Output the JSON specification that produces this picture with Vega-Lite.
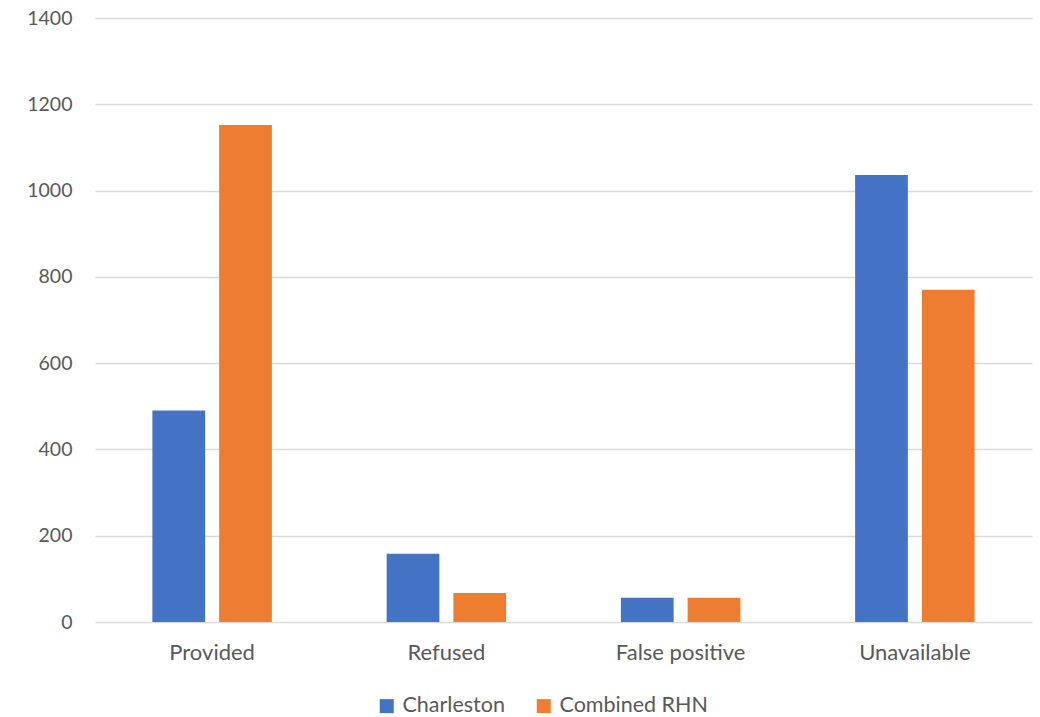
{
  "$schema": "https://vega.github.io/schema/vega-lite/v6.json",
  "autosize": {"type": "none"},
  "width": 937,
  "height": 604,
  "padding": {"left": 95, "top": 18, "right": 8, "bottom": 95},
  "background": "white",
  "data": {
    "values": [
      {"category": "Provided", "series": "Charleston", "value": 490},
      {"category": "Provided", "series": "Combined RHN", "value": 1152},
      {"category": "Refused", "series": "Charleston", "value": 158},
      {"category": "Refused", "series": "Combined RHN", "value": 67},
      {"category": "False positive", "series": "Charleston", "value": 56},
      {"category": "False positive", "series": "Combined RHN", "value": 56},
      {"category": "Unavailable", "series": "Charleston", "value": 1036},
      {"category": "Unavailable", "series": "Combined RHN", "value": 770}
    ]
  },
  "config": {
    "font": "Lato",
    "view": {"stroke": null},
    "axis": {"labelFont": "Lato", "labelColor": "#595959"}
  },
  "mark": {"type": "bar"},
  "encoding": {
    "x": {
      "field": "category",
      "type": "nominal",
      "sort": ["Provided", "Refused", "False positive", "Unavailable"],
      "scale": {"paddingInner": 0.49, "paddingOuter": 0.245},
      "axis": {
        "title": null,
        "labelAngle": 0,
        "labelFontSize": 22,
        "domain": false,
        "ticks": false,
        "tickSize": 0,
        "labelPadding": 20
      }
    },
    "xOffset": {
      "field": "series",
      "type": "nominal",
      "scale": {"paddingInner": 0.21, "paddingOuter": 0}
    },
    "y": {
      "field": "value",
      "type": "quantitative",
      "scale": {"domain": [0, 1400], "nice": false},
      "axis": {
        "title": null,
        "format": "d",
        "labelFontSize": 19.5,
        "values": [0, 200, 400, 600, 800, 1000, 1200, 1400],
        "domain": false,
        "ticks": false,
        "tickSize": 0,
        "labelPadding": 23,
        "grid": true,
        "gridColor": "#D9D9D9",
        "gridWidth": 1.3
      }
    },
    "color": {
      "field": "series",
      "type": "nominal",
      "scale": {"domain": ["Charleston", "Combined RHN"], "range": ["#4472C4", "#ED7D31"]},
      "legend": {
        "title": null,
        "orient": "none",
        "legendX": 281,
        "legendY": 677,
        "direction": "horizontal",
        "symbolType": "square",
        "symbolSize": 196,
        "symbolStrokeWidth": 0,
        "labelFontSize": 21.5,
        "labelColor": "#595959",
        "labelFont": "Lato",
        "labelOffset": 5,
        "columnPadding": 28
      }
    }
  }
}
